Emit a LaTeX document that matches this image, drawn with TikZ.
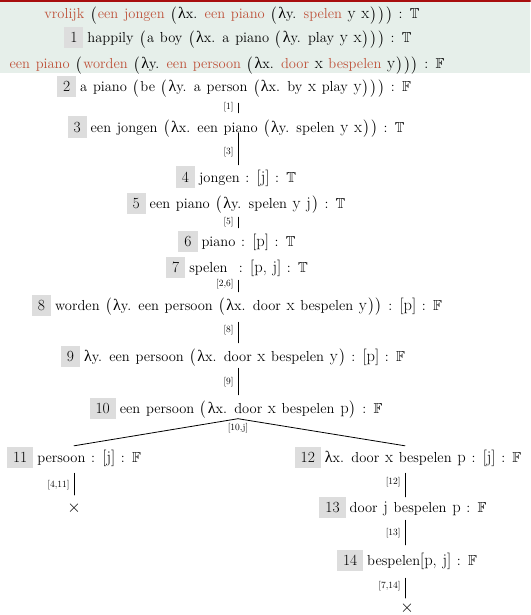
\documentclass[tikz,border=0pt]{standalone}
\usepackage{fontspec}
\usepackage{amssymb}
\newfontfamily\lamfont{Liberation Serif}
\definecolor{wordred}{RGB}{190,82,58}
\definecolor{barred}{RGB}{168,14,14}
\definecolor{topbg}{RGB}{230,239,234}
\definecolor{numgray}{RGB}{221,221,221}
% Bausteine der Formeln
\newcommand{\nbox}[1]{{\setlength{\fboxsep}{0pt}\colorbox{numgray}{\hspace{6pt}\rule[-5.5pt]{0pt}{21pt}\fontsize{15.5}{15}\selectfont #1\hspace{6pt}}}\hspace{4pt}}
\newcommand{\lam}{{\lamfont\fontsize{16}{16}\selectfont λ}}
\newcommand{\tv}[1]{{\fontsize{16.5}{17}\selectfont #1}}
\newcommand{\rd}[1]{\textcolor{wordred}{#1}}
\newcommand{\opn}{\hbox{$\left(\vcenter to 16pt{}\right.$}}
\newcommand{\cls}{\hbox{$\left.\vcenter to 16pt{}\right)$}}
\newcommand{\truev}{$\mathbb{T}$}
\newcommand{\falsev}{$\mathbb{F}$}
\newcommand{\widesp}{\spaceskip=5.7pt plus 1pt\relax}

\begin{document}
\begin{tikzpicture}[x=1pt, y=-1pt, line cap=round,
  tnode/.style={inner sep=0pt, font=\fontsize{14.5}{16}\selectfont\widesp},
  rl/.style={midway, left, inner sep=4pt, font=\fontsize{9.5}{10}\selectfont},
  rlb/.style={below, inner sep=4pt, font=\fontsize{9.5}{10}\selectfont},
  rule/.style={line width=0.8pt}]
\useasboundingbox (0,0) rectangle (530,615);
% Kopfbereich
\fill[topbg] (0,0) rectangle (530,73);
\draw[barred, line width=2.5pt] (0,1.2) -- (530,1.2);
\node[tnode, anchor=base] (t0) at (232,19) {\rd{vrolijk} \opn\rd{een jongen} \opn\lam x. \rd{een piano} \opn\lam y. \rd{spelen} \tv{y} \tv{x}\cls\cls\cls{} : \truev};
\node[tnode, anchor=base] (t1) at (238,43) {\nbox{1}happily \opn a boy \opn\lam x. a piano \opn\lam y. play \tv{y} \tv{x}\cls\cls\cls{} : \truev};
\node[tnode, anchor=base] (t2) at (227,69) {\rd{een piano} \opn\rd{worden} \opn\lam y. \rd{een persoon} \opn\lam x. \rd{door} \tv{x} \rd{bespelen} \tv{y}\cls\cls\cls{} : \falsev};
% Tak
\coordinate (tx) at (238,0);
\coordinate (lx) at (74,0);
\coordinate (rx) at (405,0);
\node[tnode] (n2) at (234,87) {\nbox{2}a piano \opn be \opn\lam y. a person \opn\lam x. by \tv{x} play \tv{y}\cls\cls\cls{} : \falsev};
\node[tnode] (n3) at (236,127) {\nbox{3}een jongen \opn\lam x. een piano \opn\lam y. spelen \tv{y} \tv{x}\cls\cls{} : \truev};
\node[tnode] (n4) at (236,177) {\nbox{4}jongen : \tv{[j]} : \truev};
\node[tnode] (n5) at (236,203) {\nbox{5}een piano \opn\lam y. spelen \tv{y} \tv{j}\cls{} : \truev};
\node[tnode] (n6) at (237,241) {\nbox{6}piano : \tv{[p]} : \truev};
\node[tnode] (n7) at (237,267) {\nbox{7}spelen\ \ : \tv{[p, j]} : \truev};
\node[tnode] (n8) at (237,305) {\nbox{8}worden \opn\lam y. een persoon \opn\lam x. door \tv{x} bespelen \tv{y}\cls\cls{} : \tv{[p]} : \falsev};
\node[tnode] (n9) at (233,356) {\nbox{9}\lam y. een persoon \opn\lam x. door \tv{x} bespelen \tv{y}\cls{} : \tv{[p]} : \falsev};
\node[tnode] (n10) at (236,408) {\nbox{10}een persoon \opn\lam x. door \tv{x} bespelen \tv{p}\cls{} : \falsev};
\node[tnode] (n11) at (74,457) {\nbox{11}persoon : \tv{[j]} : \falsev};
\node[tnode] (n12) at (408,457) {\nbox{12}\lam x. door \tv{x} bespelen \tv{p} : \tv{[j]} : \falsev};
\node[tnode] (n13) at (403,507) {\nbox{13}door \tv{j} bespelen \tv{p} : \falsev};
\node[tnode] (n14) at (407,560) {\nbox{14}bespelen\tv{[p, j]} : \falsev};
\node[tnode] (x11) at (74,508) {\tv{$\times$}};
\node[tnode] (x14) at (407,608) {\tv{$\times$}};
% Regels
\draw[rule, shorten <=5.5pt, shorten >=3.5pt] (n2.south -| tx) -- node[rl] {[1]} (n3.north -| tx);
\draw[rule, shorten <=-5pt, shorten >=1.5pt] (n3.south -| tx) -- node[rl] {[3]} (n4.north -| tx);
\draw[rule, shorten <=3.5pt, shorten >=2.5pt] (n5.south -| tx) -- node[rl] {[5]} (n6.north -| tx);
\draw[rule, shorten <=2.5pt, shorten >=2.5pt] (n7.south -| tx) -- node[rl, yshift=2pt] {[2,6]} (n8.north -| tx);
\draw[rule, shorten <=6.5pt, shorten >=2.5pt] (n8.south -| tx) -- node[rl] {[8]} (n9.north -| tx);
\draw[rule, shorten <=1.5pt, shorten >=2.5pt] (n9.south -| tx) -- node[rl] {[9]} (n10.north -| tx);
\coordinate (top10) at (n10.south -| tx);
\draw[rule] (top10) -- ([yshift=0.5pt]n11.north -| lx);
\draw[rule] (top10) -- ([yshift=0.5pt]n12.north -| rx);
\node[rlb] (l10) at (top10) {[10,j]};
\draw[rule, shorten <=5.5pt, shorten >=7pt] (n11.south -| lx) -- node[rl] {[4,11]} (x11.north -| lx);
\draw[rule, shorten <=5.5pt, shorten >=-0.5pt] (n12.south -| rx) -- node[rl] {[12]} (n13.north -| rx);
\draw[rule, shorten <=2.5pt, shorten >=4.5pt] (n13.south -| rx) -- node[rl] {[13]} (n14.north -| rx);
\draw[rule, shorten <=7.5pt, shorten >=4pt] (n14.south -| rx) -- node[rl] {[7,14]} (x14.north -| rx);
\end{tikzpicture}
\end{document}
